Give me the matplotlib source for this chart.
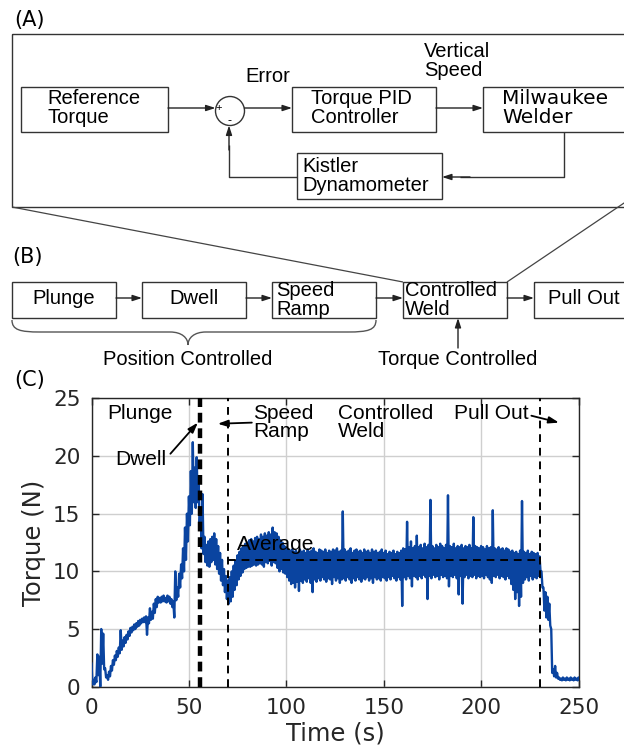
import numpy as np
import matplotlib
matplotlib.use("Agg")
import matplotlib.pyplot as plt
from matplotlib.patches import Rectangle, Circle, PathPatch
from matplotlib.path import Path

# ---------------- data ----------------
time_s = np.arange(0, 251)  # one reading per second
torque_max = [
    2.0, 0.6, 0.8, 2.8, 2.6, 5.0, 4.6, 1.6, 1.0, 1.3,
    1.8, 2.3, 2.7, 3.1, 3.4, 4.9, 4.0, 4.3, 4.5, 4.8,
    5.1, 5.2, 5.4, 5.5, 5.7, 5.8, 5.9, 6.0, 6.1, 6.0,
    6.8, 6.5, 7.2, 7.6, 7.8, 7.7, 7.8, 7.9, 7.7, 7.9,
    7.8, 7.6, 7.4, 10.0, 8.6, 9.8, 10.6, 12.0, 13.8, 15.0,
    16.5, 18.7, 21.2, 19.0, 19.9, 18.0, 15.5, 16.7, 13.0, 12.3,
    12.6, 12.8, 13.0, 13.3, 12.8, 12.2, 11.6, 11.0, 10.2, 9.6,
    9.2, 9.5, 10.0, 10.5, 10.9, 11.4, 11.7, 12.0, 12.2, 12.4,
    12.5, 12.7, 12.8, 12.6, 12.9, 13.0, 12.8, 13.2, 13.0, 13.3,
    13.1, 13.4, 13.2, 13.8, 13.4, 13.3, 13.0, 12.7, 12.5, 12.2,
    12.0, 11.9, 11.8, 11.9, 11.7, 11.8, 11.6, 11.9, 11.7, 11.8,
    11.6, 11.9, 11.7, 11.8, 12.0, 11.7, 11.6, 11.9, 11.8, 11.7,
    11.9, 11.6, 11.8, 11.7, 11.9, 11.8, 12.0, 11.7, 11.8, 15.2,
    11.9, 11.7, 11.8, 12.0, 11.6, 11.8, 11.9, 11.7, 11.8, 11.6,
    11.9, 11.7, 11.8, 11.6, 11.9, 11.7, 11.8, 11.6, 11.7, 11.9,
    11.6, 11.8, 11.5, 11.7, 11.6, 11.8, 11.5, 11.7, 11.6, 11.8,
    12.0, 11.9, 14.3, 12.1, 12.6, 12.0, 12.2, 13.1, 12.1, 12.3,
    12.0, 12.4, 12.1, 12.3, 16.2, 12.2, 12.0, 12.3, 12.1, 12.4,
    12.2, 12.0, 12.3, 16.6, 12.2, 12.1, 12.4, 12.0, 12.2, 12.1,
    12.3, 12.0, 12.2, 12.1, 12.3, 12.0, 14.7, 12.2, 12.1, 12.0,
    12.2, 12.1, 11.9, 12.2, 12.0, 12.1, 15.3, 12.0, 11.9, 12.1,
    11.9, 12.0, 11.8, 12.0, 11.9, 11.7, 11.8, 11.6, 11.7, 11.5,
    11.8, 16.1, 11.7, 11.6, 11.8, 11.5, 11.7, 11.6, 11.5, 11.6,
    11.3, 10.0, 8.6, 8.2, 7.8, 7.2, 5.0, 1.5, 1.8, 1.2,
    0.8, 0.7, 0.8, 0.7, 0.8, 0.7, 0.8, 0.7, 0.8, 0.7, 0.8,
]
torque_min = [
    0.2, 0.2, 0.4, 1.0, 0.0, 2.0, 1.5, 0.8, 0.6, 0.9,
    1.4, 1.9, 2.3, 2.6, 2.9, 3.2, 3.5, 3.8, 4.1, 4.4,
    4.7, 4.9, 5.0, 5.2, 5.3, 5.5, 5.6, 5.6, 4.5, 5.5,
    5.8, 5.9, 6.4, 6.9, 7.3, 7.3, 7.4, 7.4, 7.3, 7.4,
    7.2, 6.9, 6.0, 7.5, 7.8, 8.6, 9.4, 10.0, 11.0, 12.6,
    14.0, 15.0, 16.0, 15.5, 16.0, 14.0, 12.0, 11.5, 10.8, 10.5,
    10.4, 10.8, 11.0, 10.6, 10.2, 9.8, 9.2, 8.8, 8.2, 7.6,
    7.2, 7.4, 7.8, 8.4, 8.8, 9.3, 9.6, 9.9, 10.2, 10.3,
    10.4, 10.4, 10.5, 10.6, 10.5, 10.6, 10.7, 10.6, 10.4, 10.8,
    10.7, 10.9, 10.5, 10.8, 10.7, 10.3, 10.0, 10.2, 9.9, 9.8,
    9.5, 9.2, 8.9, 9.0, 8.6, 9.1, 8.3, 9.2, 9.0, 9.3,
    9.1, 9.4, 9.0, 8.2, 9.3, 9.1, 9.4, 9.2, 9.5, 9.3,
    9.1, 9.4, 9.3, 8.9, 9.5, 9.2, 9.4, 9.0, 9.3, 9.4,
    9.2, 9.5, 9.3, 9.0, 9.4, 9.2, 9.5, 9.3, 9.1, 9.4,
    9.3, 9.5, 9.2, 9.4, 9.0, 9.5, 9.3, 9.4, 9.2, 9.5,
    9.4, 9.2, 9.5, 9.3, 9.6, 9.4, 9.2, 9.5, 9.3, 7.0,
    9.5, 9.3, 9.6, 9.4, 8.7, 9.6, 9.5, 9.3, 9.6, 9.4,
    9.7, 9.5, 7.6, 9.6, 9.4, 9.7, 9.5, 9.6, 9.3, 9.7,
    9.5, 9.6, 9.4, 8.7, 9.6, 9.5, 9.7, 9.4, 8.0, 9.6,
    7.2, 9.5, 9.7, 9.4, 9.6, 9.5, 9.7, 9.4, 9.6, 9.5,
    9.6, 9.4, 9.7, 9.5, 9.3, 9.0, 9.6, 9.5, 9.7, 9.4,
    9.6, 9.5, 9.3, 9.6, 9.4, 8.9, 8.4, 7.6, 8.2, 7.0,
    7.8, 9.0, 9.3, 9.5, 9.2, 9.6, 9.3, 9.5, 9.4, 9.6,
    10.0, 8.6, 6.6, 6.0, 5.8, 5.3, 1.2, 0.9, 0.8, 0.7,
    0.6, 0.55, 0.6, 0.55, 0.6, 0.55, 0.6, 0.55, 0.6, 0.55, 0.6,
]
phase_times = [55.5, 70.0, 230.0]      # dwell, speed ramp, pull out
average_torque = 11.0
average_span = [70.0, 230.0]
x_ticks = [0, 50, 100, 150, 200, 250]
y_ticks = [0, 5, 10, 15, 20, 25]

# ---------------- figure ----------------
W, H = 624, 753
fig = plt.figure(figsize=(W / 100, H / 100), dpi=100)
ax = fig.add_axes([91.5 / W, (H - 686.7) / H, 487 / W, (686.7 - 398.4) / H])

# zig-zag between per-second max and min readings
t_arr = np.asarray(time_s, dtype=float)
x_line = np.column_stack([t_arr, t_arr + 0.5]).ravel()
y_line = np.column_stack([torque_max, torque_min]).ravel()
ax.plot(x_line, y_line, color="#0a44a0", lw=1.7, zorder=3)

ax.set_xlim(0, 250)
ax.set_ylim(0, 25)
ax.set_xticks(x_ticks)
ax.set_yticks(y_ticks)
ax.grid(True, color="#cfcfcf", lw=1.0, zorder=0)
ax.set_axisbelow(True)
for s in ax.spines.values():
    s.set_color("#262626")
    s.set_linewidth(1.0)
ax.tick_params(direction="in", top=True, right=True, length=5, width=1,
               labelsize=15.5, colors="#262626", pad=8)
for lab in ax.get_xticklabels() + ax.get_yticklabels():
    lab.set_family("DejaVu Sans")
ax.set_xlabel("Time (s)", fontsize=17.5, family="DejaVu Sans", color="#262626", labelpad=3)
ax.set_ylabel("Torque (N)", fontsize=17.5, family="DejaVu Sans", color="#262626", labelpad=5)

# phase lines
ax.axvline(phase_times[0], color="k", lw=3.2, ls=(0, (2.2, 1.3)), zorder=4)
ax.axvline(phase_times[1], color="k", lw=1.4, ls=(0, (4, 3)), zorder=4)
ax.axvline(phase_times[2], color="k", lw=1.4, ls=(0, (4, 3)), zorder=4)
ax.plot(average_span, [average_torque, average_torque], color="k", lw=1.4,
        ls=(0, (4, 3)), zorder=4)

sans = "Liberation Sans"
ax.text(25, 23.7, "Plunge", fontsize=15, family=sans, ha="center", va="center", zorder=5)
ax.text(25.5, 19.7, "Dwell", fontsize=15, family=sans, ha="center", va="center", zorder=5)
ax.annotate("", xy=(54.6, 22.9), xytext=(40.5, 20.2),
            arrowprops=dict(arrowstyle="-|>,head_length=0.6,head_width=0.2",
                            color="k", lw=1.3, shrinkA=0, shrinkB=0), zorder=5)
ax.text(82.8, 24.55, "Speed\nRamp", fontsize=15, family=sans, ha="left", va="top",
        linespacing=0.95, zorder=5)
ax.annotate("", xy=(64.8, 22.8), xytext=(82.3, 22.9),
            arrowprops=dict(arrowstyle="-|>,head_length=0.6,head_width=0.2",
                            color="k", lw=1.3, shrinkA=0, shrinkB=0), zorder=5)
ax.text(126.3, 24.55, "Controlled\nWeld", fontsize=15, family=sans, ha="left", va="top",
        linespacing=0.95, zorder=5)
ax.text(186.2, 23.7, "Pull Out", fontsize=15, family=sans, ha="left", va="center", zorder=5)
ax.annotate("", xy=(240.0, 22.9), xytext=(225.8, 23.5),
            arrowprops=dict(arrowstyle="-|>,head_length=0.6,head_width=0.2",
                            color="k", lw=1.3, shrinkA=0, shrinkB=0), zorder=5)
ax.text(74.6, 12.3, "Average", fontsize=15, family=sans, ha="left", va="center", zorder=5)

# ---------------- overlay for block diagrams (pixel coordinates) ----------------
ov = fig.add_axes([0, 0, 1, 1], zorder=-1)
ov.set_xlim(0, W)
ov.set_ylim(H, 0)
ov.axis("off")
ov.patch.set_alpha(0)

EC = "#333333"

def box(x0, y0, x1, y1, lw=1.0):
    ov.add_patch(Rectangle((x0, y0), x1 - x0, y1 - y0, fill=False, ec=EC, lw=lw,
                           clip_on=True))

def arrow(tail, head):
    ov.annotate("", xy=head, xytext=tail,
                arrowprops=dict(arrowstyle="-|>,head_length=0.55,head_width=0.18",
                                color="#222222", lw=1.0, shrinkA=0, shrinkB=0))

def line(xs, ys, color=EC, lw=1.0):
    ov.plot(xs, ys, color=color, lw=lw, solid_capstyle="butt")

FS = 14.5
# panel labels
ov.text(14, 20, "(A)", fontsize=15, family="DejaVu Sans", ha="left", va="center")
ov.text(12, 257, "(B)", fontsize=15, family="DejaVu Sans", ha="left", va="center")
ov.text(14, 380, "(C)", fontsize=15, family="DejaVu Sans", ha="left", va="center")

# (A) outer box
box(12, 34, 640, 207)
box(21, 87, 168, 132)
box(292, 87, 436, 132)
box(483, 87, 640, 132)
box(297, 153, 442, 199)
ov.add_patch(Circle((230, 111), 14.5, fill=False, ec=EC, lw=1.0))
ov.text(219, 108, "+", fontsize=8, family=sans, ha="center", va="center")
ov.text(230, 121, "-", fontsize=9, family=sans, ha="center", va="center")

ov.text(47, 108, "Reference\nTorque", fontsize=FS, family=sans, ha="left", va="center",
        linespacing=1.0)
ov.text(311, 108, "Torque PID\nController", fontsize=FS, family=sans, ha="left",
        va="center", linespacing=1.0)
ov.text(502, 108, "Milwaukee\nWelder", fontsize=FS, family="DejaVu Sans", ha="left",
        va="center", linespacing=1.0)
ov.text(302, 176, "Kistler\nDynamometer", fontsize=FS, family=sans, ha="left",
        va="center", linespacing=1.0)
ov.text(268, 76, "Error", fontsize=FS, family=sans, ha="center", va="center")
ov.text(424, 61, "Vertical\nSpeed", fontsize=FS, family=sans, ha="left", va="center",
        linespacing=1.0)

arrow((168, 108), (215.5, 108))
arrow((244.5, 108), (292, 108))
arrow((436, 108), (483, 108))
line([564, 564, 460], [132, 177, 177])
arrow((470, 177), (442, 177))
line([297, 229, 229], [177, 177, 145])
arrow((229, 150), (229, 125.5))

# connector lines from (A) to Controlled Weld box
line([12, 403], [207, 282], color="#444444", lw=0.9)
line([630, 507], [199, 282], color="#444444", lw=0.9)

# (B) boxes
box(12, 282, 116, 318)
box(142, 282, 246, 318)
box(272, 282, 376, 318)
box(403, 282, 507, 318)
box(534, 282, 640, 318)
ov.text(64, 298, "Plunge", fontsize=FS, family=sans, ha="center", va="center")
ov.text(194, 298, "Dwell", fontsize=FS, family=sans, ha="center", va="center")
ov.text(276, 300, "Speed\nRamp", fontsize=FS, family=sans, ha="left", va="center",
        linespacing=0.95)
ov.text(405, 300, "Controlled\nWeld", fontsize=FS, family=sans, ha="left", va="center",
        linespacing=0.95)
ov.text(548, 298, "Pull Out", fontsize=FS, family=sans, ha="left", va="center")
arrow((116, 298), (142, 298))
arrow((246, 298), (272, 298))
arrow((376, 298), (403, 298))
arrow((507, 298), (534, 298))

# brace under position-controlled steps
verts = [(12, 320), (12, 330), (20, 332), (40, 332),
         (170, 332), (182, 332), (188, 338), (188, 345),
         (188, 338), (194, 332), (206, 332),
         (348, 332), (368, 332), (376, 330), (376, 320)]
codes = [Path.MOVETO, Path.CURVE4, Path.CURVE4, Path.CURVE4,
         Path.LINETO, Path.CURVE4, Path.CURVE4, Path.CURVE4,
         Path.CURVE4, Path.CURVE4, Path.CURVE4,
         Path.LINETO, Path.CURVE4, Path.CURVE4, Path.CURVE4]
ov.add_patch(PathPatch(Path(verts, codes), fill=False, ec="#555555", lw=1.0))
ov.text(188, 359, "Position Controlled", fontsize=FS, family=sans, ha="center", va="center")
ov.text(458, 359, "Torque Controlled", fontsize=FS, family=sans, ha="center", va="center")
arrow((458, 348), (458, 318))

fig.savefig("out.png", dpi=100)
